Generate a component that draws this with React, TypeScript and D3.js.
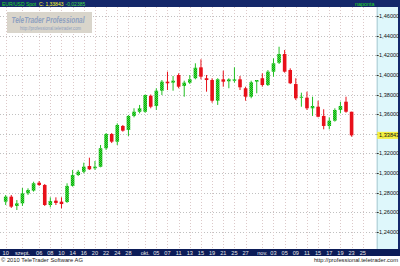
import React from "react";
import * as d3 from "d3";

const dates = [
  "08-27","08-30","08-31","09-01","09-02","09-03","09-06","09-07","09-08","09-09",
  "09-10","09-13","09-14","09-15","09-16","09-17","09-20","09-21","09-22","09-23",
  "09-24","09-27","09-28","09-29","09-30","10-01","10-04","10-05","10-06","10-07",
  "10-08","10-11","10-12","10-13","10-14","10-15","10-18","10-19","10-20","10-21",
  "10-22","10-25","10-26","10-27","10-28","10-29","11-01","11-02","11-03","11-04",
  "11-05","11-08","11-09","11-10","11-11","11-12","11-15","11-16","11-17","11-18",
  "11-19","11-22","11-23",
];
const opens = [
  1.2709,1.2760,1.2665,1.2692,1.2794,1.2821,1.2902,1.2879,1.2675,1.2719,
  1.2709,1.2706,1.2869,1.2981,1.3014,1.3072,1.3049,1.3065,1.3253,1.3398,
  1.3320,1.3480,1.3439,1.3582,1.3625,1.3625,1.3788,1.3683,1.3839,1.3931,
  1.3921,1.3999,1.3887,1.3921,1.3966,1.4077,1.3966,1.3948,1.3737,1.3955,
  1.3935,1.3941,1.3955,1.3864,1.3778,1.3931,1.3966,1.3897,1.4033,1.4124,
  1.4213,1.4050,1.3907,1.3768,1.3768,1.3660,1.3676,1.3582,1.3480,1.3534,
  1.3643,1.3727,1.3625,
];
const highs = [
  1.2777,1.2777,1.2726,1.2848,1.2845,1.2912,1.2919,1.2889,1.2753,1.2753,
  1.2753,1.2896,1.3032,1.3032,1.3106,1.3157,1.3123,1.3286,1.3408,1.3408,
  1.3507,1.3490,1.3592,1.3660,1.3694,1.3800,1.3800,1.3864,1.3948,1.4033,
  1.3989,1.4016,1.3941,1.3999,1.4118,1.4159,1.3999,1.3966,1.3966,1.4043,
  1.3966,1.4077,1.3989,1.3880,1.3941,1.3948,1.4016,1.4050,1.4169,1.4287,
  1.4254,1.4067,1.3966,1.3819,1.3829,1.3778,1.3737,1.3650,1.3568,1.3660,
  1.3727,1.3778,1.3625,
];
const lows = [
  1.2675,1.2645,1.2624,1.2665,1.2777,1.2811,1.2869,1.2665,1.2651,1.2675,
  1.2641,1.2696,1.2862,1.2970,1.2998,1.3032,1.3032,1.3059,1.3235,1.3306,
  1.3286,1.3422,1.3378,1.3568,1.3609,1.3615,1.3660,1.3643,1.3795,1.3846,
  1.3839,1.3864,1.3778,1.3907,1.3955,1.3955,1.3829,1.3717,1.3694,1.3880,
  1.3864,1.3921,1.3846,1.3737,1.3762,1.3813,1.3880,1.3887,1.3982,1.4111,
  1.4023,1.3907,1.3744,1.3676,1.3643,1.3582,1.3568,1.3446,1.3446,1.3524,
  1.3609,1.3615,1.3371,
];
const closes = [
  1.2760,1.2658,1.2692,1.2794,1.2828,1.2896,1.2879,1.2675,1.2716,1.2696,
  1.2685,1.2869,1.2981,1.3014,1.3065,1.3039,1.3065,1.3253,1.3398,1.3320,
  1.3490,1.3432,1.3582,1.3625,1.3660,1.3795,1.3676,1.3839,1.3931,1.3915,
  1.3941,1.3880,1.3921,1.3955,1.4073,1.3982,1.3948,1.3737,1.3955,1.3931,
  1.3955,1.3955,1.3874,1.3778,1.3925,1.3948,1.3897,1.4033,1.4118,1.4213,
  1.4033,1.3915,1.3762,1.3778,1.3660,1.3683,1.3574,1.3480,1.3534,1.3643,
  1.3683,1.3625,1.33843,
];

const tickIndex = [0,3,6,8,10,12,14,16,18,20,22,25,27,29,31,33,35,37,39,41,43,46,48,50,52,54,56,58,60,62,64];
const tickLabels = ["10","szept.","06","08","10","14","16","20","22","24","28","okt.","05","07","11","13","15","19","21","25","27","nov.","03","05","09","11","15","17","19","23","25"];
const priceTicks = [1.24,1.26,1.28,1.30,1.32,1.34,1.36,1.38,1.40,1.42,1.44,1.46];
const lastClose = 1.33843;
const changeValue = -0.02385;

const W = 400, H = 266;
const plotL = 0, plotR = 376.7, plotT = 7, plotB = 249;
const fmt = (v: number) => v.toFixed(5).replace(".", ",");

export default function App() {
  const x = d3.scaleLinear().domain([-1.02, 66.5]).range([plotL, plotR]);
  const y = d3.scaleLinear().domain([1.24, 1.46]).range([232, 16]);
  const bw = 3.6;
  const font = "'Liberation Sans', Arial, sans-serif";
  const yLast = y(lastClose);
  const headerClose = `C: ${fmt(lastClose)}`;
  return (
    <svg width={W} height={H} style={{ position: "absolute", left: 0, top: 0, display: "block" }}>
      <defs>
        <pattern id="gp" width="2" height="2" patternUnits="userSpaceOnUse">
          <rect width="2" height="2" fill="#0aa80a" />
          <rect width="1" height="1" fill="#3fdc3f" />
          <rect x="1" y="1" width="1" height="1" fill="#3fdc3f" />
        </pattern>
        <clipPath id="pc"><rect x={plotL} y={plotT} width={plotR - plotL} height={plotB - plotT} /></clipPath>
      </defs>
      <rect x={0} y={0} width={W} height={H} fill="#ffffff" />
      {/* grid */}
      <g clipPath="url(#pc)">
        {priceTicks.map((p, i) => (
          <line key={"h" + i} x1={plotL} x2={plotR} y1={Math.round(y(p)) + 0.5} y2={Math.round(y(p)) + 0.5}
            stroke="#c0c0c0" strokeDasharray="1,2" />
        ))}
        {tickIndex.map((t, i) => (
          <line key={"v" + i} x1={Math.round(x(t)) + 0.5} x2={Math.round(x(t)) + 0.5} y1={plotT} y2={plotB}
            stroke="#dcc8c8" strokeDasharray="1,2" />
        ))}
      </g>
      {/* watermark */}
      <rect x={7} y={12} width={85} height={21} fill="#d9d5cb" />
      <text x={11.5} y={23} fontFamily={font} fontSize={9.5} fontWeight="bold" fontStyle="italic" fill="#8ea0c0"
        textLength={73} lengthAdjust="spacingAndGlyphs">TeleTrader Professional</text>
      <text x={20} y={30} fontFamily={font} fontSize={5} fill="#8ea0c0" textLength={61} lengthAdjust="spacingAndGlyphs">http://professional.teletrader.com</text>
      {/* candles */}
      <g clipPath="url(#pc)">
        {dates.map((d, i) => {
          const o = opens[i], c = closes[i], hi = highs[i], lo = lows[i];
          const up = c >= o;
          const cx = x(i);
          const col = up ? "#0aa80a" : "#e8101a";
          const top = y(Math.max(o, c)), bot = y(Math.min(o, c));
          return (
            <g key={d}>
              <line x1={cx} x2={cx} y1={y(hi)} y2={y(lo)} stroke={up ? "#22c022" : "#e8101a"} strokeWidth={1} />
              <rect x={cx - bw / 2} y={top} width={bw} height={Math.max(1, bot - top)} fill={up ? "url(#gp)" : col} />
            </g>
          );
        })}
      </g>
      {/* header */}
      <rect x={0} y={0} width={W} height={7} fill="#14286a" />
      <text x={2} y={5.6} fontFamily={font} fontSize={5} fill="#22dd22">EUR/USD Spot</text>
      <text x={39} y={5.6} fontFamily={font} fontSize={5} fill="#ffff22">{headerClose}</text>
      <text x={65.5} y={5.6} fontFamily={font} fontSize={5} fill="#44dd44">{fmt(changeValue)}</text>
      <text x={355} y={5.6} fontFamily={font} fontSize={5.4} fill="#22dd22">naponta</text>
      {/* right axis */}
      <rect x={plotR} y={7} width={398 - plotR} height={plotB - 7} fill="#def7fb" />
      <line x1={plotR + 0.5} x2={plotR + 0.5} y1={7} y2={plotB} stroke="#a8c8d0" />
      <rect x={398} y={0} width={2} height={plotB} fill="#14286a" />
      {priceTicks.map((p, i) => (
        <g key={"pt" + i}>
          <line x1={plotR} x2={plotR + 2} y1={Math.round(y(p)) + 0.5} y2={Math.round(y(p)) + 0.5} stroke="#333" />
          {Math.abs(y(p) - yLast) > 7 && (
            <text x={379} y={y(p) + 2} fontFamily={font} fontSize={5.6} fill="#111">{fmt(p)}</text>
          )}
        </g>
      ))}
      <rect x={plotR + 0.5} y={yLast - 3.5} width={398 - plotR - 0.5} height={7} fill="#f4f040" />
      <text x={379} y={yLast + 2} fontFamily={font} fontSize={5.6} fill="#111">{fmt(lastClose)}</text>
      {/* bottom axis */}
      <rect x={0} y={plotB} width={W} height={7} fill="#0c1c58" />
      {tickIndex.map((t, i) => (
        <text key={"xl" + i} x={x(t)} y={plotB + 5.5} textAnchor="middle" fontFamily={font} fontSize={5.6} fill="#e8e8e8">{tickLabels[i]}</text>
      ))}
      <text x={1} y={262} fontFamily={font} fontSize={5.8} fill="#222">© 2010 TeleTrader Software AG</text>
      <text x={398} y={262} textAnchor="end" fontFamily={font} fontSize={5.8} fill="#222">http://professional.teletrader.com</text>
    </svg>
  );
}
